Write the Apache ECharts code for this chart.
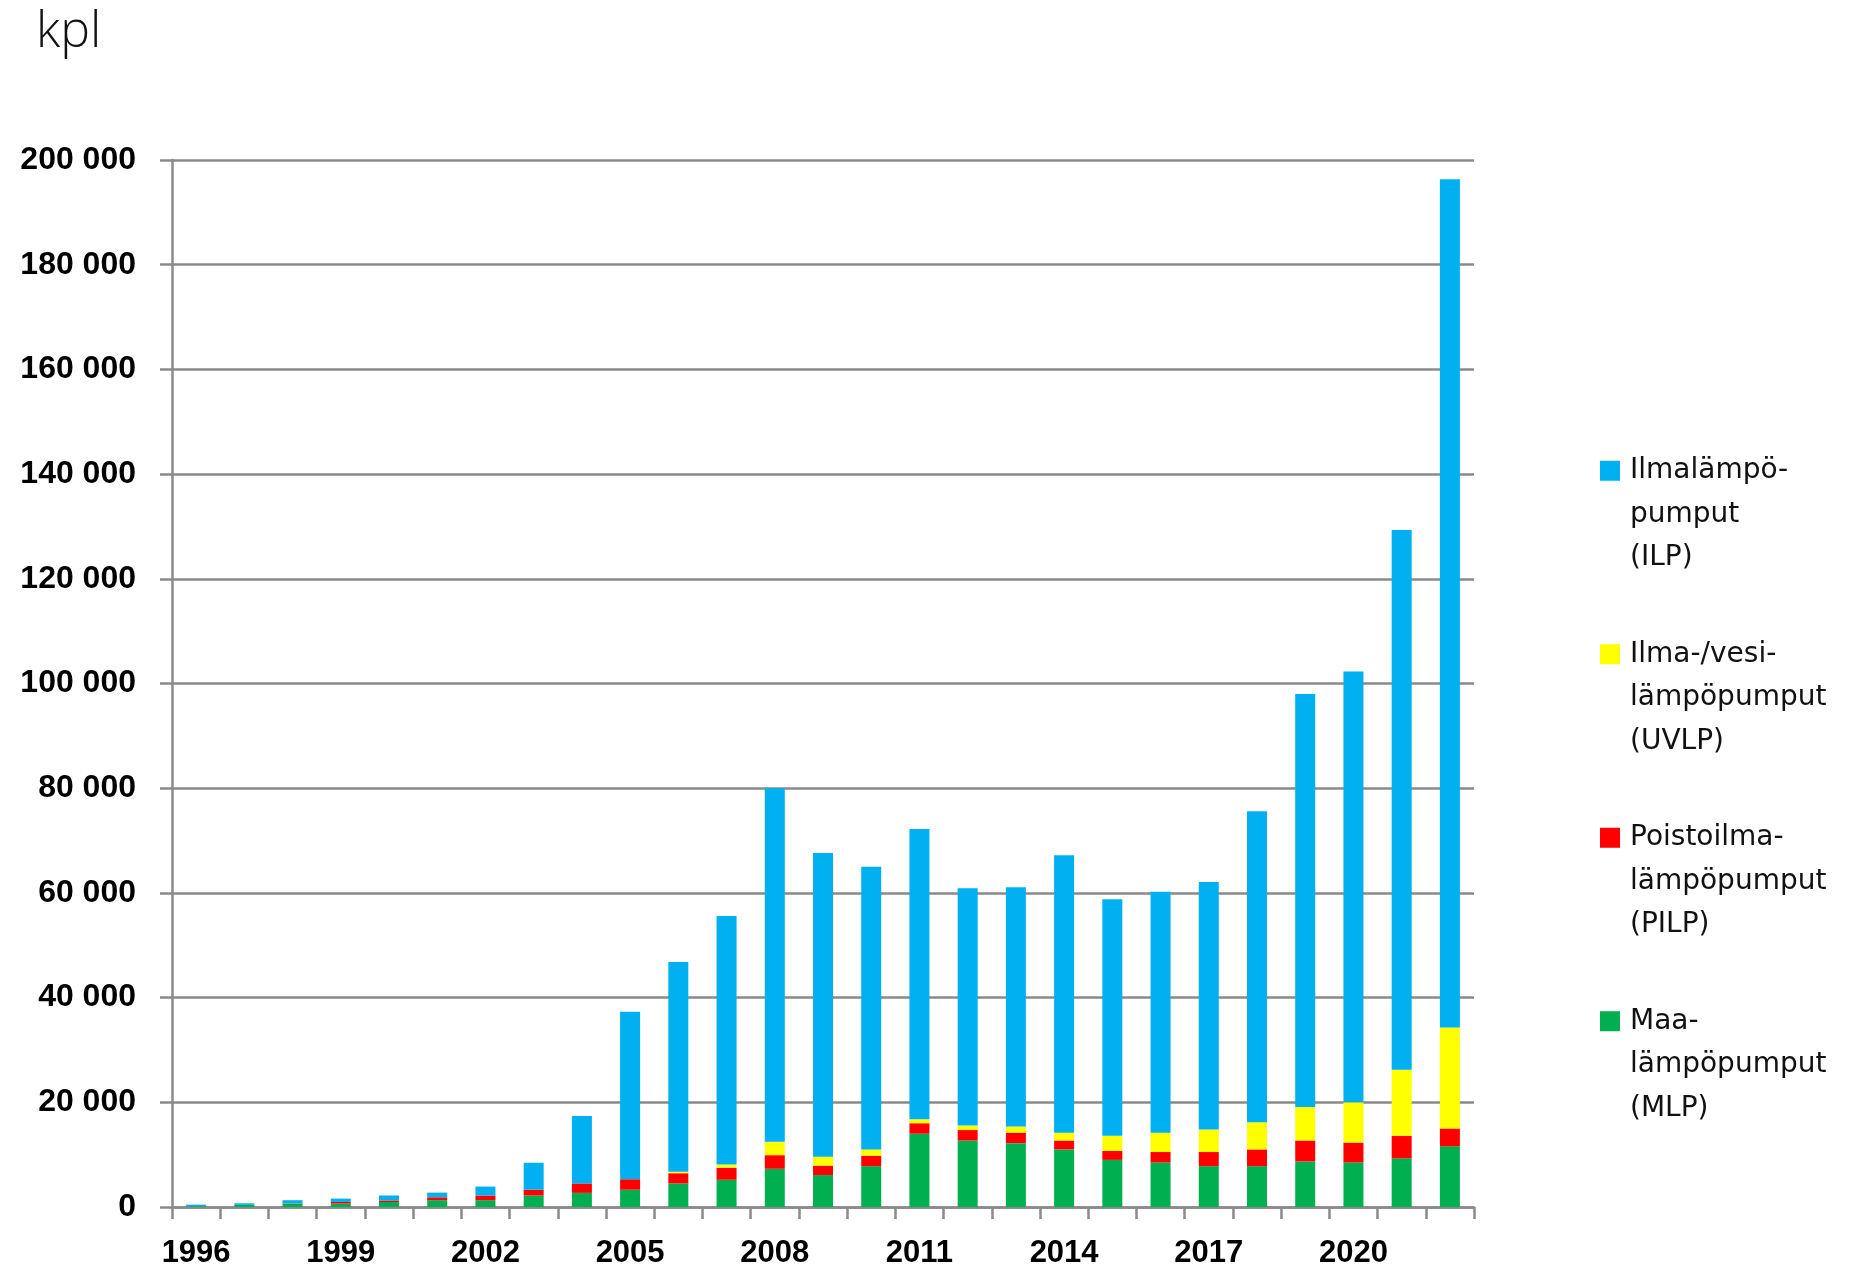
<!DOCTYPE html>
<html><head><meta charset="utf-8">
<script src="https://cdn.jsdelivr.net/npm/echarts@6/dist/echarts.min.js"></script>
<style>html,body{margin:0;padding:0;background:#fff}#c{width:1850px;height:1270px}</style>
</head><body><div id="c"></div>
<script>
const years = ['1996','1997','1998','1999','2000','2001','2002','2003','2004','2005','2006','2007','2008','2009','2010','2011','2012','2013','2014','2015','2016','2017','2018','2019','2020','2021','2022'];
const mlp  = [150,400,650,650,950,1300,1300,2200,2700,3300,4500,5200,7300,6100,7800,14000,12700,12200,11000,9000,8500,7800,7800,8700,8500,9300,11600];
const pilp = [0,0,50,300,300,550,900,1100,1800,2000,1950,2300,2600,1800,2000,2000,2000,2000,1700,1700,2000,2700,3200,4000,3800,4300,3400];
const uvlp = [0,0,0,0,0,0,0,0,0,0,300,600,2550,1700,1200,750,850,1200,1500,2900,3700,4300,5200,6400,7700,12600,19300];
const ilp  = [300,300,600,650,950,900,1700,5150,12900,32000,40050,47500,67550,58000,54000,55450,45350,45700,53000,45200,46000,47300,59400,78900,82300,103100,162000];
const names = ['Maa-\nlämpöpumput\n(MLP)','Poistoilma-\nlämpöpumput\n(PILP)','Ilma-/vesi-\nlämpöpumput\n(UVLP)','Ilmalämpö-\npumput\n(ILP)'];
const colors = ['#00B050','#FF0000','#FFFF00','#00B0F0'];
const yTicks = {min:0, max:200000, interval:20000};

const chart = echarts.init(document.getElementById('c'));
const iconPath = 'path://M0,0H20V20H0Z M25,107.2 L25,107.21';
const mk = (i, d) => ({name:names[i], type:'bar', stack:'t', data:d, barWidth:20,
  itemStyle:{color:colors[i]}, emphasis:{disabled:true}});
chart.setOption({
  animation:false,
  graphic:[{type:'text', left:36, top:8, style:{text:'kpl', font:'300 50px "Open Sans"', fill:'#111'}}],
  grid:{left:172, right:376, top:160, bottom:63},
  legend:{orient:'vertical', left:1595, top:444, itemWidth:25, itemHeight:107.2, itemGap:52.7,
    icon:iconPath, data:[names[3],names[2],names[1],names[0]],
    textStyle:{fontFamily:'DejaVu Sans', fontSize:28, lineHeight:43.6, color:'#111'}},
  xAxis:{type:'category', data:years,
    axisLine:{lineStyle:{color:'#8a8a8a', width:2.5}},
    axisTick:{show:true, interval:0, length:12, lineStyle:{color:'#8a8a8a', width:2.5}},
    axisLabel:{interval:2, margin:31, fontFamily:'Liberation Sans', fontWeight:'bold', fontSize:31, color:'#000'}},
  yAxis:{type:'value', min:yTicks.min, max:yTicks.max, interval:yTicks.interval,
    axisLine:{show:true, lineStyle:{color:'#8a8a8a', width:2.5}},
    axisTick:{show:true, length:12, lineStyle:{color:'#8a8a8a', width:2.5}},
    splitLine:{lineStyle:{color:'#8a8a8a', width:2.5}},
    axisLabel:{margin:36, fontFamily:'Liberation Sans', fontWeight:'bold', fontSize:32, color:'#000',
      formatter:v => String(v).replace(/\B(?=(\d{3})+(?!\d))/g,' ')}},
  series:[mk(0,mlp), mk(1,pilp), mk(2,uvlp), mk(3,ilp)]
});
</script></body></html>
